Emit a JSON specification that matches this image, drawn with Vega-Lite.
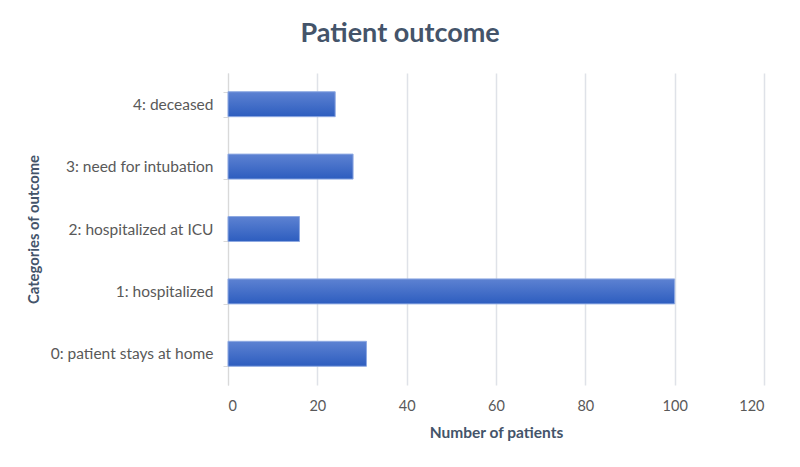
{
  "$schema": "https://vega.github.io/schema/vega-lite/v6.json",
  "autosize": "none",
  "width": 536,
  "height": 312,
  "padding": {"left": 228, "top": 73, "right": 36, "bottom": 82},
  "background": "white",
  "title": {
    "text": "Patient outcome",
    "anchor": "middle",
    "frame": "bounds",
    "fontSize": 27,
    "font": "Lato",
    "fontWeight": "bold",
    "color": "#44546a",
    "offset": 18,
    "dx": 5
  },
  "data": {
    "values": [
      {"category": "0: patient stays at home", "patients": 31},
      {"category": "1: hospitalized", "patients": 100},
      {"category": "2: hospitalized at ICU", "patients": 16},
      {"category": "3: need for intubation", "patients": 28},
      {"category": "4: deceased", "patients": 24}
    ]
  },
  "mark": {
    "type": "bar",
    "color": {
      "gradient": "linear",
      "x1": 0, "y1": 0, "x2": 0, "y2": 1,
      "stops": [
        {"offset": 0, "color": "#5d82d2"},
        {"offset": 1, "color": "#2d5dbf"}
      ]
    },
    "stroke": "#8ea9e2",
    "strokeWidth": 1
  },
  "encoding": {
    "y": {
      "field": "category",
      "type": "nominal",
      "sort": "descending",
      "scale": {"paddingInner": 0.6, "paddingOuter": 0.3},
      "axis": {
        "title": "Categories of outcome",
        "titleFont": "Lato",
        "titleFontSize": 14.8,
        "titleFontWeight": "bold",
        "titleColor": "#44546a",
        "titlePadding": 9,
        "labelFont": "Lato",
        "labelFontSize": 15.5,
        "labelColor": "#595959",
        "labelPadding": 10,
        "tickBand": "extent",
        "tickColor": "#d9d9d9",
        "tickSize": 5,
        "domainColor": "#d9d9d9",
        "grid": false
      }
    },
    "x": {
      "field": "patients",
      "type": "quantitative",
      "scale": {"domain": [0, 120]},
      "axis": {
        "title": "Number of patients",
        "values": [0, 20, 40, 60, 80, 100, 120],
        "titleFont": "Lato",
        "titleFontSize": 15.5,
        "titleFontWeight": "bold",
        "titleColor": "#44546a",
        "titlePadding": 13,
        "labelFont": "Lato",
        "labelFontSize": 14.5,
        "labelColor": "#595959",
        "labelPadding": 14,
        "ticks": false,
        "domain": false,
        "grid": true,
        "gridColor": "#dfe2e8",
        "gridWidth": 1.5
      }
    }
  },
  "config": {
    "view": {"stroke": null}
  }
}
